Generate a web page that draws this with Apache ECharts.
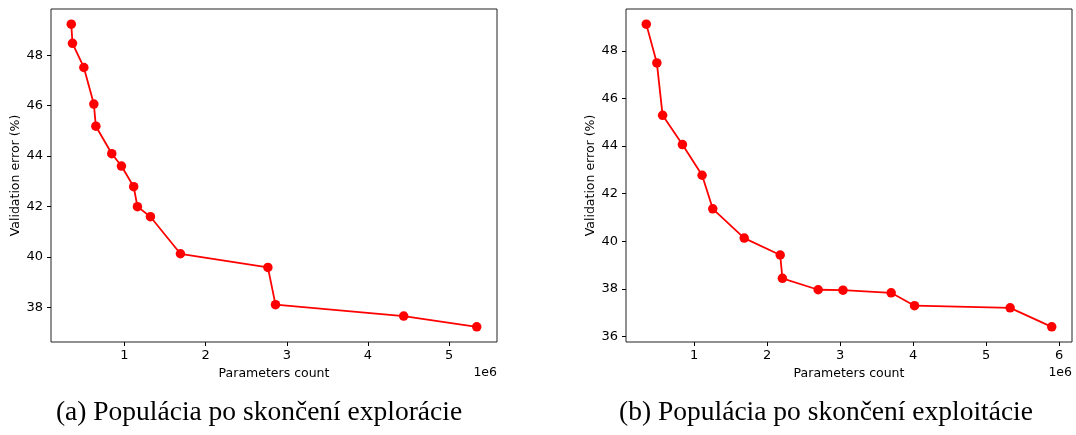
<!DOCTYPE html>
<html>
<head>
<meta charset="utf-8">
<script src="https://cdn.jsdelivr.net/npm/echarts@6/dist/echarts.min.js"></script>
<style>
    html, body { margin: 0; padding: 0; background: #fff; }
    #chart { width: 1076px; height: 435px; }
</style>
</head>
<body>
<div id="chart"></div>
<script>
// parameters count / validation error (%)
var exploreParams = [345000, 360000, 500000, 623000, 648000, 844000, 963000, 1114000, 1160000, 1320000, 1690000, 2767000, 2861000, 4440000, 5340000];
var exploreError = [49.23, 48.47, 47.51, 46.06, 45.18, 44.09, 43.60, 42.78, 41.99, 41.59, 40.12, 39.58, 38.10, 37.65, 37.22];

var exploitParams = [345000, 490000, 569000, 840000, 1110000, 1256000, 1687000, 2180000, 2210000, 2700000, 3040000, 3700000, 4020000, 5330000, 5900000];
var exploitError = [49.12, 47.49, 45.29, 44.06, 42.77, 41.36, 40.13, 39.42, 38.44, 37.96, 37.94, 37.83, 37.29, 37.20, 36.40];

var leftXTicks = [1000000, 2000000, 3000000, 4000000, 5000000];
var rightXTicks = [1000000, 2000000, 3000000, 4000000, 5000000, 6000000];
var leftYTicks = [38, 40, 42, 44, 46, 48];
var rightYTicks = [36, 38, 40, 42, 44, 46, 48];

var captionA = '(a) Populácia po skončení explorácie';
var captionB = '(b) Populácia po skončení exploitácie';

var tickFont = 'DejaVu Sans';

// matplotlib style 5% margins
function limits(arr) {
    var lo = Math.min.apply(null, arr);
    var hi = Math.max.apply(null, arr);
    var pad = (hi - lo) * 0.05;
    return [lo - pad, hi + pad];
}

function makePairs(xs, ys) {
    return xs.map(function (x, i) {
        return [x, ys[i]];
    });
}

function xAxisFor(idx, xs, ticks) {
    var lim = limits(xs);
    return {
        type: 'value',
        gridIndex: idx,
        min: lim[0],
        max: lim[1],
        name: 'Parameters count',
        nameLocation: 'middle',
        nameGap: 25,
        nameTextStyle: {fontFamily: tickFont, fontSize: 12.5, color: '#000'},
        axisLine: {show: false},
        splitLine: {show: false},
        axisTick: {show: true, length: 4, inside: false, customValues: ticks, lineStyle: {color: '#000'}},
        axisLabel: {
            customValues: ticks,
            margin: 7,
            fontFamily: tickFont,
            fontSize: 13,
            color: '#000',
            formatter: function (v) {
                return String(Math.round(v / 1000000));
            }
        }
    };
}

function yAxisFor(idx, ys, ticks) {
    var lim = limits(ys);
    return {
        type: 'value',
        gridIndex: idx,
        min: lim[0],
        max: lim[1],
        name: 'Validation error (%)',
        nameLocation: 'middle',
        nameGap: 29,
        nameTextStyle: {fontFamily: tickFont, fontSize: 12.5, color: '#000'},
        axisLine: {show: false},
        splitLine: {show: false},
        axisTick: {show: true, length: 4, customValues: ticks, lineStyle: {color: '#000'}},
        axisLabel: {
            customValues: ticks,
            margin: 8,
            fontFamily: tickFont,
            fontSize: 13,
            color: '#000'
        }
    };
}

function seriesFor(idx, xs, ys) {
    return {
        type: 'line',
        xAxisIndex: idx,
        yAxisIndex: idx,
        data: makePairs(xs, ys),
        symbol: 'circle',
        symbolSize: 9.5,
        lineStyle: {color: '#ff0000', width: 1.8},
        itemStyle: {color: '#ff0000'},
        animation: false
    };
}

var myChart = echarts.init(document.getElementById('chart'));
var option = {
    animation: false,
    grid: [
        {left: 51, top: 9, width: 446, height: 333, show: true, borderColor: '#222', borderWidth: 1, backgroundColor: 'transparent'},
        {left: 626, top: 9, width: 446, height: 333, show: true, borderColor: '#222', borderWidth: 1, backgroundColor: 'transparent'}
    ],
    xAxis: [
        xAxisFor(0, exploreParams, leftXTicks),
        xAxisFor(1, exploitParams, rightXTicks)
    ],
    yAxis: [
        yAxisFor(0, exploreError, leftYTicks),
        yAxisFor(1, exploitError, rightYTicks)
    ],
    series: [
        seriesFor(0, exploreParams, exploreError),
        seriesFor(1, exploitParams, exploitError)
    ],
    graphic: [
        {type: 'text', right: 579, top: 366, style: {text: '1e6', font: '12.5px "DejaVu Sans"', fill: '#000'}},
        {type: 'text', right: 4, top: 366, style: {text: '1e6', font: '12.5px "DejaVu Sans"', fill: '#000'}},
        {type: 'text', x: 259, y: 399, style: {text: captionA, textAlign: 'center', font: '27.5px "Liberation Serif"', fill: '#000'}},
        {type: 'text', x: 826, y: 399, style: {text: captionB, textAlign: 'center', font: '27.5px "Liberation Serif"', fill: '#000'}}
    ]
};
myChart.setOption(option);
</script>
</body>
</html>
